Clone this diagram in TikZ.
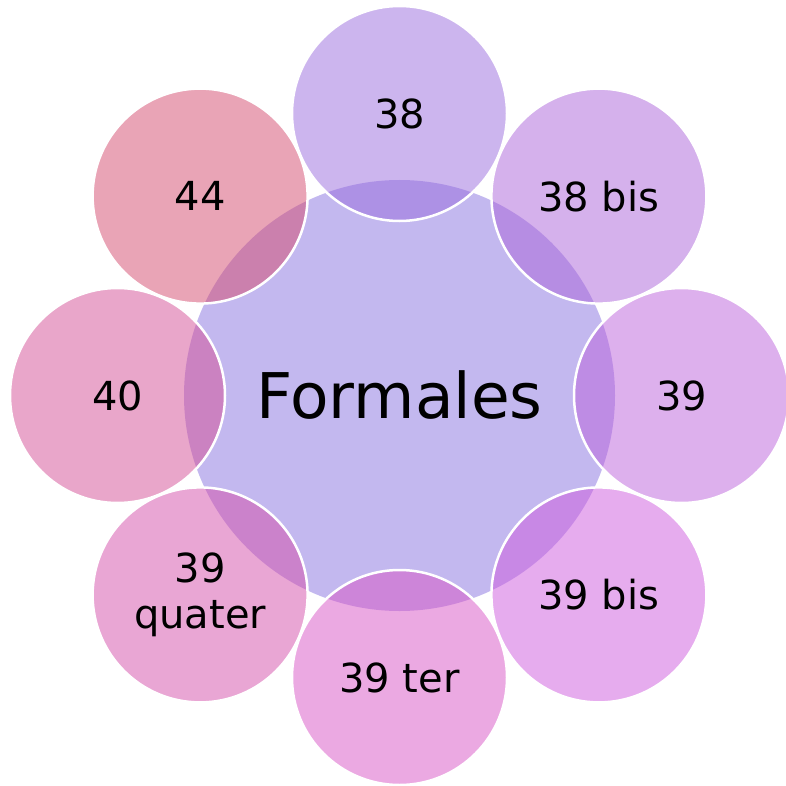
\documentclass[tikz,border=0pt]{standalone}
\usepackage{fontspec}
\setmainfont{DejaVu Sans}
\definecolor{cCenter}{RGB}{195,184,239}
\definecolor{cA}{RGB}{153,107,221}
\definecolor{cB}{RGB}{171,99,217}
\definecolor{cC}{RGB}{187,97,219}
\definecolor{cD}{RGB}{205,89,221}
\definecolor{cE}{RGB}{215,83,197}
\definecolor{cF}{RGB}{211,77,169}
\definecolor{cG}{RGB}{211,77,149}
\definecolor{cH}{RGB}{211,73,109}
\tikzset{
  hub/.style={circle, fill=cCenter, minimum size=431pt, inner sep=0pt,
    font=\fontsize{63}{75}\selectfont},
  petal/.style={circle, draw=white, line width=2.5pt, fill=#1, fill opacity=0.5,
    text opacity=1, minimum size=215pt, inner sep=0pt, align=center,
    font=\fontsize{40}{46}\selectfont}
}
\begin{document}
\begin{tikzpicture}[x=1pt,y=-1pt]
\useasboundingbox (0,0) rectangle (786,786);
\clip (0,0) rectangle (786,786);
\node[hub] (hub) at (399.5,395.5) {Formales};
\node[petal=cA] (p1) at (399.5,113.5) {38};
\node[petal=cB] (p2) at (598.9,196.1) {38 bis};
\node[petal=cC] (p3) at (681.5,395.5) {39};
\node[petal=cD] (p4) at (598.9,594.9) {39 bis};
\node[petal=cE] (p5) at (399.5,677.5) {39 ter};
\node[petal=cF] (p6) at (200.1,594.9) {39\\quater};
\node[petal=cG] (p7) at (117.5,395.5) {40};
\node[petal=cH] (p8) at (200.1,196.1) {44};
\end{tikzpicture}
\end{document}
